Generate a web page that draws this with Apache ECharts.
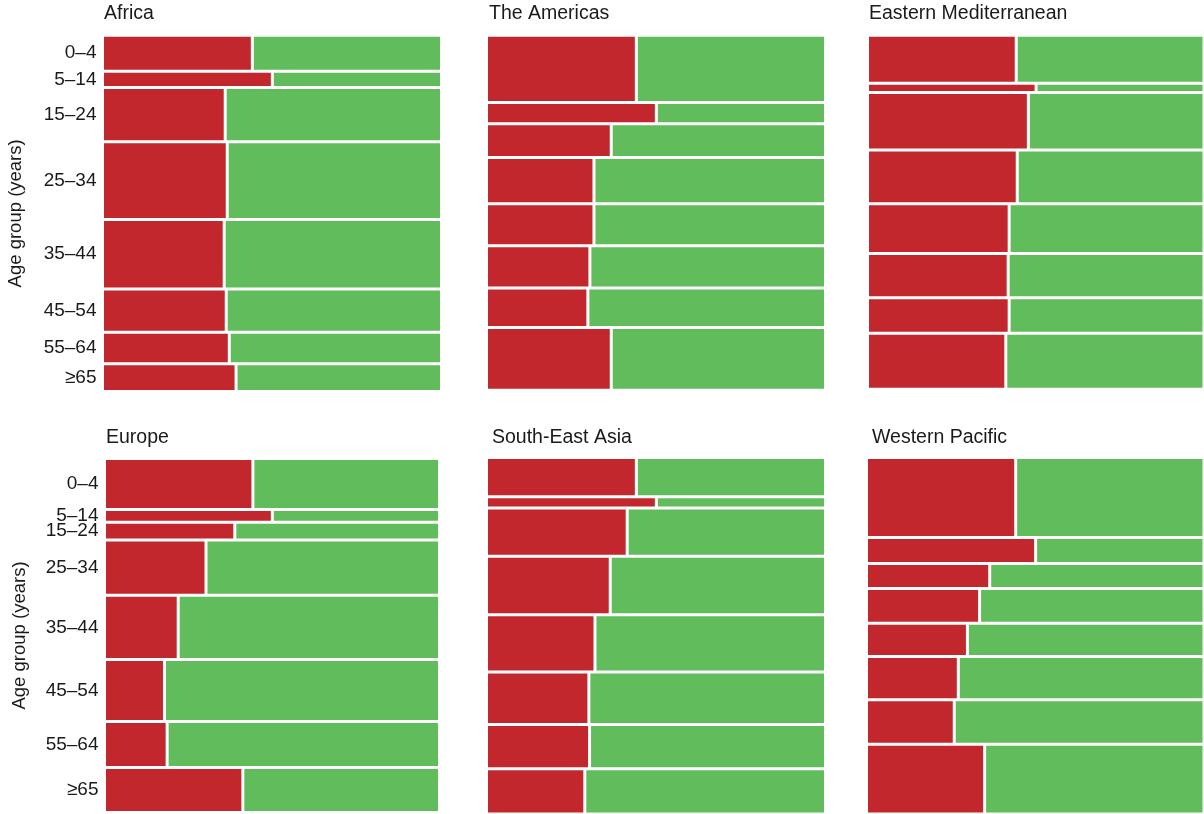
<!DOCTYPE html>
<html>
<head>
<meta charset="utf-8">
<script src="https://cdn.jsdelivr.net/npm/echarts@6/dist/echarts.min.js"></script>
<style>
  html, body { margin: 0; padding: 0; background: #ffffff; }
  #chart { width: 1204px; height: 814px; }
</style>
</head>
<body>
<div id="chart"></div>
<script>
// ---- Data ----
const ageGroups = ['0–4', '5–14', '15–24', '25–34', '35–44', '45–54', '55–64', '≥65'];
const regions = ['Africa', 'The Americas', 'Eastern Mediterranean', 'Europe', 'South-East Asia', 'Western Pacific'];

// share of each age group (row height, %)
const africaShare   = [10.1, 4.6, 15.2, 21.8, 19.5, 12.2, 8.8, 7.8];
const americasShare = [19.0, 6.0, 9.5, 13.0, 11.9, 11.9, 11.1, 17.7];
const emedShare     = [13.6, 2.6, 16.2, 15.2, 14.1, 12.5, 10.0, 15.8];
const europeShare   = [14.4, 3.6, 5.0, 15.6, 18.2, 17.5, 13.0, 12.7];
const seaShare      = [11.0, 3.2, 13.5, 16.4, 16.1, 14.7, 12.4, 12.7];
const wpacShare     = [22.4, 7.3, 7.0, 9.7, 9.3, 12.1, 12.5, 19.5];

// red proportion within each age group (0–1)
const africaRed   = [0.442, 0.501, 0.362, 0.368, 0.359, 0.365, 0.374, 0.394];
const americasRed = [0.442, 0.501, 0.368, 0.317, 0.317, 0.305, 0.299, 0.368];
const emedRed     = [0.442, 0.501, 0.478, 0.445, 0.421, 0.418, 0.421, 0.411];
const europeRed   = [0.443, 0.501, 0.389, 0.303, 0.220, 0.179, 0.187, 0.413];
const seaRed      = [0.442, 0.501, 0.415, 0.365, 0.320, 0.302, 0.304, 0.290];
const wpacRed     = [0.442, 0.501, 0.365, 0.335, 0.299, 0.272, 0.260, 0.350];

// ---- Layout (styles only) ----
const RED = '#c1272d';
const GREEN = '#61bc5b';
const TEXT = '#1a1a1a';
const FONT = '"Liberation Sans", Arial, sans-serif';
const GAP = 1.5;

const panels = [
  { name: regions[0], share: africaShare,   red: africaRed,   grid: { left: 102.5, top: 35.2,  width: 339, height: 356.3 }, labels: true,  titlePos: { left: 104, top: 3.5 } },
  { name: regions[1], share: americasShare, red: americasRed, grid: { left: 486.5, top: 35.2,  width: 339, height: 355 },   labels: false, titlePos: { left: 489, top: 3.5 } },
  { name: regions[2], share: emedShare,     red: emedRed,     grid: { left: 867.5, top: 35.2,  width: 342, height: 354 },   labels: false, titlePos: { left: 869, top: 3.5 } },
  { name: regions[3], share: europeShare,   red: europeRed,   grid: { left: 104.5, top: 458.5, width: 335, height: 354 },   labels: true,  titlePos: { left: 106, top: 427.5 } },
  { name: regions[4], share: seaShare,      red: seaRed,      grid: { left: 486.5, top: 457.5, width: 339, height: 358 },   labels: false, titlePos: { left: 492, top: 427.5 } },
  { name: regions[5], share: wpacShare,     red: wpacRed,     grid: { left: 866.5, top: 457.5, width: 342, height: 358 },   labels: false, titlePos: { left: 872, top: 427.5 } }
];

const grids = [], xAxes = [], yAxes = [], series = [], titles = [];

panels.forEach((p, i) => {
  let cum = 0;
  const rows = [];
  const centers = [];
  p.share.forEach((s, k) => {
    rows.push([cum, cum + s, p.red[k]]);
    centers.push(cum + s / 2);
    cum += s;
  });
  const total = cum;

  grids.push(Object.assign({ containLabel: false }, p.grid));
  titles.push({
    text: p.name,
    left: p.titlePos.left,
    top: p.titlePos.top,
    padding: 0,
    textStyle: { fontFamily: FONT, fontSize: 19.5, fontWeight: 'normal', color: TEXT }
  });
  xAxes.push({
    type: 'value', gridIndex: i, min: 0, max: 1,
    show: false
  });
  yAxes.push({
    type: 'value', gridIndex: i, min: 0, max: total, inverse: true,
    axisLine: { show: false },
    axisTick: { show: false },
    splitLine: { show: false },
    name: p.labels ? 'Age group (years)' : '',
    nameLocation: 'middle',
    nameRotate: 90,
    nameGap: 77 - (i === 3 ? 2 : 0),
    nameTextStyle: { fontFamily: FONT, fontSize: 18.5, color: TEXT },
    axisLabel: {
      show: p.labels,
      customValues: centers,
      margin: 6,
      fontFamily: FONT,
      fontSize: 19,
      color: TEXT,
      formatter: function (v) {
        let best = 0, bd = Infinity;
        centers.forEach((c, k) => { const d = Math.abs(c - v); if (d < bd) { bd = d; best = k; } });
        return ageGroups[best];
      }
    }
  });
  series.push({
    type: 'custom',
    xAxisIndex: i,
    yAxisIndex: i,
    data: rows,
    encode: { y: [0, 1], x: 2 },
    renderItem: function (params, api) {
      const y0 = api.value(0), y1 = api.value(1), f = api.value(2);
      const a = api.coord([0, y0]);
      const b = api.coord([f, y1]);
      const c = api.coord([1, y1]);
      return {
        type: 'group',
        children: [
          { type: 'rect', shape: { x: a[0] + GAP, y: a[1] + GAP, width: b[0] - a[0] - 2 * GAP, height: b[1] - a[1] - 2 * GAP }, style: { fill: RED } },
          { type: 'rect', shape: { x: b[0] + GAP, y: a[1] + GAP, width: c[0] - b[0] - 2 * GAP, height: b[1] - a[1] - 2 * GAP }, style: { fill: GREEN } }
        ]
      };
    }
  });
});

const chart = echarts.init(document.getElementById('chart'), null, { renderer: 'canvas' });
chart.setOption({
  animation: false,
  backgroundColor: '#ffffff',
  title: titles,
  grid: grids,
  xAxis: xAxes,
  yAxis: yAxes,
  series: series
});
</script>
</body>
</html>
